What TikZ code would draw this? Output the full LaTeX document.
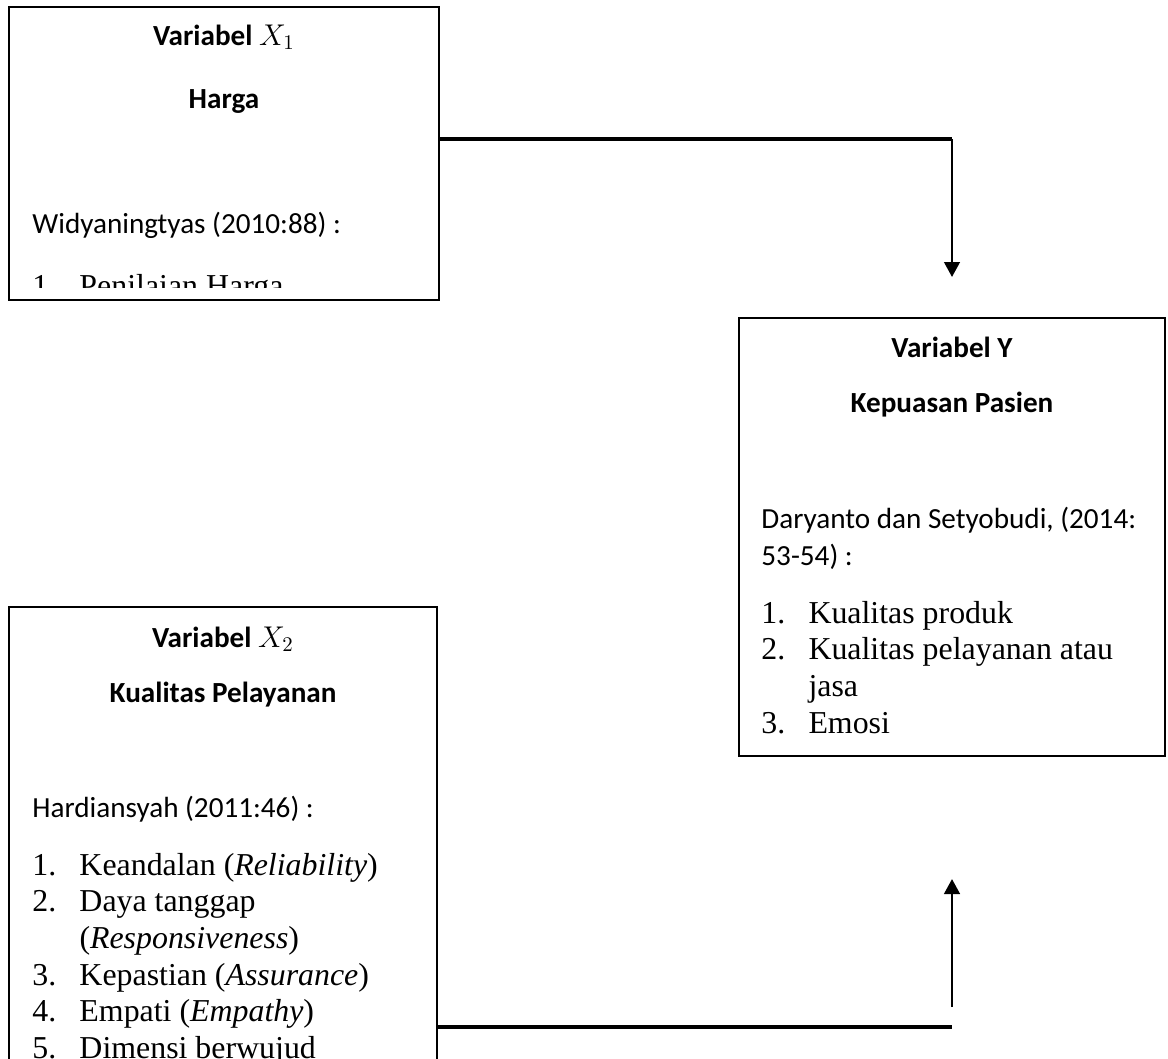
\documentclass[tikz,border=0pt]{standalone}
\usepackage{fontspec}
\setmainfont{Carlito}
\newfontfamily\timesfont{Liberation Serif}
\usetikzlibrary{positioning}
\usetikzlibrary{calc}
\usetikzlibrary{arrows.meta}

\tikzset{
    varbox/.style    = {draw, line width=1.3pt, inner sep=0pt},
    headtext/.style  = {font=\fontsize{14}{17}\selectfont\bfseries, inner sep=0pt, anchor=base},
    reftext/.style   = {font=\fontsize{14}{17.8}\selectfont, inner sep=0pt, anchor=base west},
    listtext/.style  = {font=\timesfont\fontsize{15.3}{17.6}\selectfont, inner sep=0pt, anchor=base west},
    hline/.style     = {line width=1.8pt},
    flowarrow/.style = {line width=1.2pt, -{Triangle[length=7.2pt,width=7.5pt]}},
}
\newcommand{\numlist}[1]{\begin{tabular}[t]{@{}p{22.6pt}@{}l@{}}#1\end{tabular}}

\begin{document}
\begin{tikzpicture}[x=0.48pt, y=-0.48pt]
    \fill[white] (0,0) rectangle (1168,1058);
    \clip (0,0) rectangle (1168,1058);

    % boxes
    \node[varbox, minimum width=206.4pt, minimum height=140.6pt] (hargabox)   at (224,153.5) {};
    \node[varbox, minimum width=204.5pt, minimum height=210.2pt] (pasienbox)  at (952,537)   {};
    \node[varbox, minimum width=205.4pt, minimum height=240pt]   (layananbox) at (223,857)   {};

    % Variabel X1
    \node[headtext] (hargatitle) at (224,45)  {Variabel $X_1$};
    \node[headtext] (harganame)  at (224,108) {Harga};
    \node[reftext]  (hargaref)   at (32,233)  {Widyaningtyas (2010:88) :};
    \begin{scope}
        \clip (9,7) rectangle (439,287);
        \node[listtext] (hargalist) at (32,296) {\numlist{1.&Penilaian Harga}};
    \end{scope}

    % Variabel Y
    \node[headtext] (pasientitle) at (952,357) {Variabel Y};
    \node[headtext] (pasienname)  at (952,412) {Kepuasan Pasien};
    \node[reftext]  (pasienref)   at (761,528)
        {\begin{tabular}[t]{@{}l@{}}Daryanto dan Setyobudi, (2014:\\53-54) :\end{tabular}};
    \node[listtext] (pasienlist)  at (761,623)
        {\numlist{1.&Kualitas produk\\2.&Kualitas pelayanan atau\\&jasa\\3.&Emosi}};

    % Variabel X2
    \node[headtext] (layanantitle) at (223,647) {Variabel $X_2$};
    \node[headtext] (layananname)  at (223,702) {Kualitas Pelayanan};
    \node[reftext]  (layananref)   at (32,817)  {Hardiansyah (2011:46) :};
    \node[listtext] (layananlist)  at (32,875)
        {\numlist{1.&Keandalan (\textit{Reliability})\\2.&Daya tanggap\\&(\textit{Responsiveness})\\
                  3.&Kepastian (\textit{Assurance})\\4.&Empati (\textit{Empathy})\\5.&Dimensi berwujud}};

    % connectors
    \coordinate (topbend) at (952,139);
    \coordinate (toptip)  at (952,277);
    \draw[hline] (hargabox.east |- topbend) -- (topbend);
    \draw[flowarrow] (topbend) -- (toptip);

    \coordinate (botend) at (952,1027);
    \coordinate (upfoot) at (952,1007);
    \coordinate (uptip)  at (952,879);
    \draw[hline] (layananbox.east |- botend) -- (botend);
    \draw[flowarrow] (upfoot) -- (uptip);
\end{tikzpicture}
\end{document}
